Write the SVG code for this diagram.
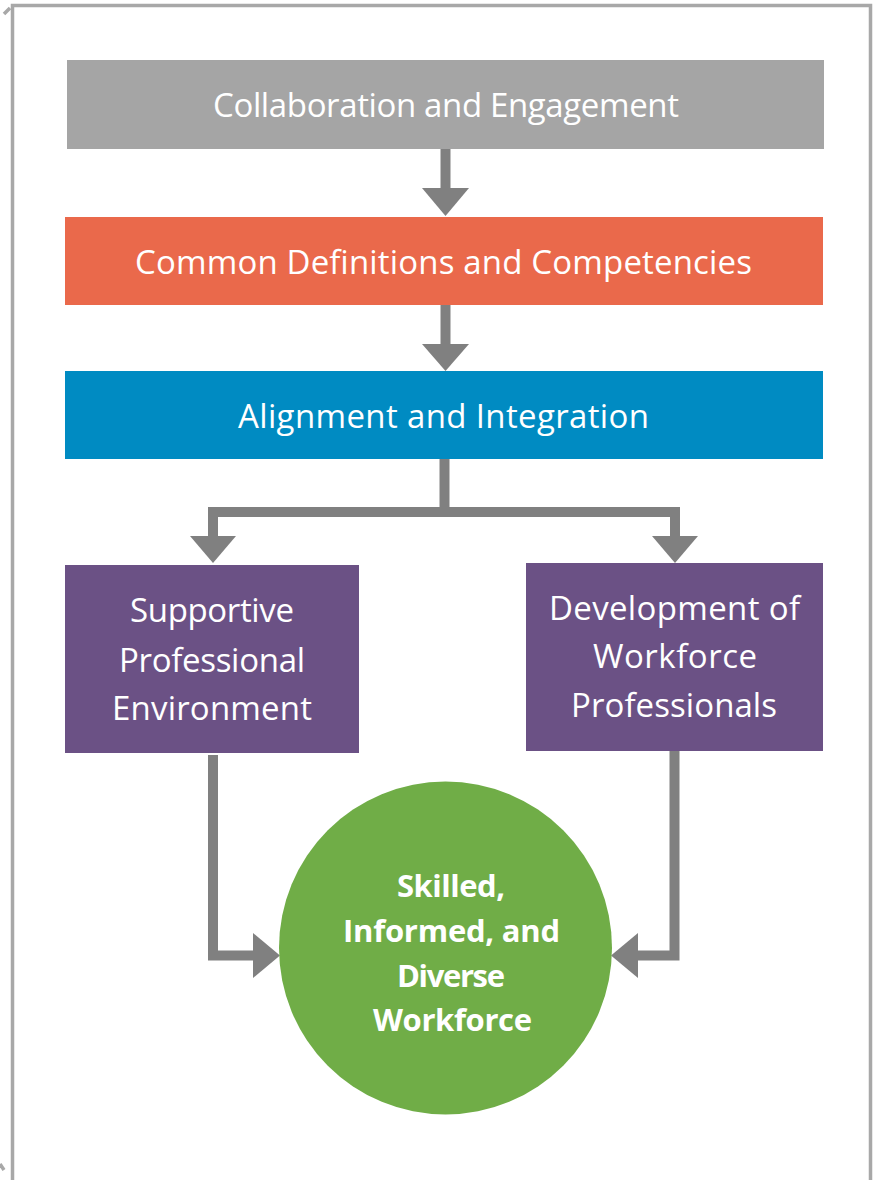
<svg xmlns="http://www.w3.org/2000/svg" width="881" height="1180" viewBox="0 0 881 1180">
  <style>
    .frame { fill: none; stroke: #a8a8a8; stroke-width: 3.5; }
    .link { fill: none; stroke: #808080; stroke-width: 10; stroke-linejoin: miter; }
    .head { fill: #808080; }
    .label { font-family: "Open Sans", "Liberation Sans", sans-serif; fill: #ffffff; text-anchor: middle; }
    .box { font-size: 33px; }
    .bold { font-size: 31px; font-weight: bold; }
  </style>

  <rect x="0" y="0" width="881" height="1180" fill="#ffffff"/>

  <!-- outer border -->
  <g id="frame">
    <path class="frame" d="M12.5,1180 V5.5 H870.5 V1180"/>
    <path class="frame" d="M4,14 L10,8" stroke-width="3"/>
    <path class="frame" d="M0,1164 L4,1170" stroke-width="3"/>
  </g>

  <!-- connectors -->
  <g id="connectors">
    <line class="link" x1="445.5" y1="149" x2="445.5" y2="190" stroke-width="11"/>
    <polygon class="head" points="422,188 469,188 445.5,216"/>

    <line class="link" x1="445.5" y1="305" x2="445.5" y2="346" stroke-width="11"/>
    <polygon class="head" points="422,344 469,344 445.5,371"/>

    <path class="link" d="M444.5,459 V512"/>
    <path class="link" d="M213,538 V512 H675 V538"/>
    <polygon class="head" points="190,536 236,536 213,563"/>
    <polygon class="head" points="652,536 698,536 675,563"/>

    <path class="link" d="M213,755 V955.5 H256"/>
    <polygon class="head" points="253,933 253,978 280,955.5"/>

    <path class="link" d="M674.5,751 V955.5 H636"/>
    <polygon class="head" points="638,933 638,978 611,955.5"/>
  </g>

  <g id="collaboration">
    <rect x="67" y="60" width="757" height="89" fill="#a5a5a5"/>
    <text class="label box" x="446" y="117" textLength="466" lengthAdjust="spacing">Collaboration and Engagement</text>
  </g>

  <g id="definitions">
    <rect x="65" y="217" width="758" height="88" fill="#ea694b"/>
    <text class="label box" x="443.5" y="274" textLength="617" lengthAdjust="spacing">Common Definitions and Competencies</text>
  </g>

  <g id="alignment">
    <rect x="65" y="371" width="758" height="88" fill="#008bc2"/>
    <text class="label box" x="443.5" y="428" textLength="411" lengthAdjust="spacing">Alignment and Integration</text>
  </g>

  <g id="supportive">
    <rect x="65" y="565" width="294" height="188" fill="#6b5185"/>
    <text class="label box" x="212" y="622" textLength="164" lengthAdjust="spacing">Supportive</text>
    <text class="label box" x="212" y="672" textLength="186" lengthAdjust="spacing">Professional</text>
    <text class="label box" x="212" y="720" textLength="200" lengthAdjust="spacing">Environment</text>
  </g>

  <g id="development">
    <rect x="526" y="563" width="297" height="188" fill="#6b5185"/>
    <text class="label box" x="674.5" y="620" textLength="251" lengthAdjust="spacing">Development of</text>
    <text class="label box" x="675" y="668" textLength="164" lengthAdjust="spacing">Workforce</text>
    <text class="label box" x="674" y="717" textLength="206" lengthAdjust="spacing">Professionals</text>
  </g>

  <g id="workforce">
    <circle cx="445.5" cy="948" r="166.5" fill="#70ad47"/>
    <text class="label bold" x="451" y="897" textLength="108" lengthAdjust="spacing">Skilled,</text>
    <text class="label bold" x="451.5" y="942" textLength="217" lengthAdjust="spacing">Informed, and</text>
    <text class="label bold" x="451" y="987" textLength="108" lengthAdjust="spacing">Diverse</text>
    <text class="label bold" x="452.5" y="1031" textLength="159" lengthAdjust="spacing">Workforce</text>
  </g>
</svg>
